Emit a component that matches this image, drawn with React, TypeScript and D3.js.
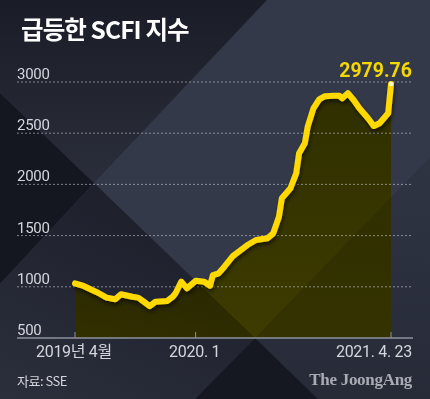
import React from "react";
import * as d3 from "d3";

const dates = [
  "2019-03-15", "2019-04-05", "2019-05-10", "2019-05-31", "2019-06-21", "2019-07-05",
  "2019-08-02", "2019-08-16", "2019-08-30", "2019-09-13", "2019-09-27", "2019-10-25",
  "2019-11-08", "2019-11-15", "2019-11-29", "2019-12-13", "2020-01-03", "2020-01-24",
  "2020-02-07", "2020-02-14", "2020-02-28", "2020-03-13", "2020-04-03", "2020-04-17",
  "2020-05-08", "2020-05-29", "2020-06-26", "2020-07-10", "2020-07-24", "2020-07-31",
  "2020-08-21", "2020-09-04", "2020-09-11", "2020-09-25", "2020-10-02", "2020-10-16",
  "2020-10-30", "2020-11-13", "2020-12-04", "2020-12-18", "2020-12-25", "2021-01-08",
  "2021-01-22", "2021-02-05", "2021-02-26", "2021-03-12", "2021-03-26", "2021-04-16",
  "2021-04-23",
];
const values = [
  1034, 1008, 942, 894, 878, 927,
  903, 894, 854, 812, 854, 861,
  903, 937, 1050, 985, 1060, 1050,
  1011, 1115, 1132, 1196, 1301, 1343,
  1408, 1457, 1474, 1522, 1685, 1864,
  1962, 2108, 2304, 2401, 2564, 2743,
  2831, 2862, 2865, 2865, 2840, 2890,
  2824, 2743, 2646, 2570, 2597, 2694,
  2979.76,
];
const yTicks = [500, 1000, 1500, 2000, 2500, 3000];
const xTickDates = ["2019-03-15", "2020-01-03", "2021-04-23"];
const xTickLabels = ["2019년 4월", "2020. 1", "2021. 4. 23"];
const title = "급등한 SCFI 지수";
const lastLabel = "2979.76";
const source = "자료: SSE";
const brand = "The JoongAng";

export default function App() {
  const W = 430, H = 399;
  const parse = d3.timeParse("%Y-%m-%d");
  const data = dates.map((d, i) => ({ date: parse(d) as Date, value: values[i] }));
  const x = d3.scaleTime()
    .domain([data[0].date, data[data.length - 1].date])
    .range([75, 391]);
  const y = d3.scaleLinear().domain([500, 3000]).range([338, 82]);

  const line = d3.line<{ date: Date; value: number }>()
    .x((d) => x(d.date))
    .y((d) => y(d.value))
    .curve(d3.curveLinear);
  const area = d3.area<{ date: Date; value: number }>()
    .x((d) => x(d.date))
    .y0(y(500))
    .y1((d) => y(d.value))
    .curve(d3.curveLinear);

  const last = data[data.length - 1];
  const numFont = "Roboto, 'Noto Sans CJK KR', sans-serif";

  return (
    <>
      <style>{`body{margin:0;background:#2a2e3b}`}</style>
      <svg width={W} height={H} style={{ display: "block" }}>
        <defs>
          <linearGradient id="gTop" x1="0" y1="0" x2="0" y2="1">
            <stop offset="0" stopColor="#1a1d27" />
            <stop offset="1" stopColor="#2a2e3a" />
          </linearGradient>
          <linearGradient id="gBot" x1="0.6" y1="0" x2="0" y2="1">
            <stop offset="0" stopColor="#1c1f2a" />
            <stop offset="1" stopColor="#2b2f3c" />
          </linearGradient>
          <linearGradient id="gRight" x1="0" y1="0" x2="0" y2="1">
            <stop offset="0" stopColor="#2f3443" />
            <stop offset="1" stopColor="#272b38" />
          </linearGradient>
          <linearGradient id="gFill" x1="0" y1="0" x2="0" y2="1">
            <stop offset="0" stopColor="#ffe000" stopOpacity={0} />
            <stop offset="1" stopColor="#ffe000" stopOpacity={0.07} />
          </linearGradient>
          <filter id="shadow" x="-10%" y="-10%" width="130%" height="130%">
            <feDropShadow dx="1" dy="3" stdDeviation="2" floodColor="#000" floodOpacity="0.55" />
          </filter>
        </defs>
        {/* background */}
        <rect x={0} y={0} width={W} height={H} fill="#343949" />
        <polygon points="0,0 267,0 94,183 0,93" fill="url(#gTop)" />
        <polygon points="0,93 94,183 0,284" fill="#141720" />
        <polygon points="94,183 255,338 195,399 0,399 0,284" fill="url(#gBot)" />
        <polygon points="430,157 255,338 318,399 430,399" fill="url(#gRight)" />
        <polygon points="255,338 318,399 195,399" fill="#151821" />

        {/* area */}
        <path d={area(data) || ""} fill="#e6cf00" style={{ mixBlendMode: "multiply" }} />
        <path d={area(data) || ""} fill="url(#gFill)" />

        {/* grid */}
        {yTicks.filter((t) => t > 500).map((t) => (
          <line key={t} x1={17} x2={413} y1={y(t)} y2={y(t)} stroke="#c4c8d0" strokeOpacity={0.6}
            strokeWidth={1} strokeDasharray="2,2" />
        ))}
        <line x1={17} x2={413} y1={y(500)} y2={y(500)} stroke="#8d929c" strokeWidth={1.5} />
        {xTickDates.map((d) => (
          <line key={d} x1={x(parse(d) as Date)} x2={x(parse(d) as Date)} y1={y(500) - 6} y2={y(500)}
            stroke="#8d929c" strokeWidth={1} />
        ))}
        {yTicks.map((t) => (
          <text key={t} x={17} y={y(t) - 3} fill="#d3d6dc" fontFamily={numFont} fontSize={15}
            letterSpacing={-0.3}>{t}</text>
        ))}
        {xTickDates.map((d, i) => (
          <text key={d} x={i === 2 ? 412 : x(parse(d) as Date) - 1} y={357}
            textAnchor={i === 2 ? "end" : "middle"} fill="#d3d6dc" fontFamily={numFont}
            fontSize={16} letterSpacing={-0.3}>{xTickLabels[i]}</text>
        ))}

        {/* line */}
        <path d={line(data) || ""} fill="none" stroke="#ffd900" strokeWidth={6}
          strokeLinejoin="round" strokeLinecap="round" filter="url(#shadow)" />
        <circle cx={x(last.date)} cy={y(last.value)} r={2.3} fill="#fffbd0" />
        <text x={412} y={77} textAnchor="end" fill="#f5d800" fontFamily={numFont} fontWeight={700}
          fontSize={19.5}>{lastLabel}</text>

        {/* title & footer */}
        <text x={21} y={39} fill="#ffffff" fontFamily="'Noto Sans CJK KR', sans-serif" fontWeight={700}
          fontSize={24.5} letterSpacing={-0.9}>{title}</text>
        <text x={17} y={386} fill="#d3d6dc" fontFamily="'Noto Sans CJK KR', sans-serif" fontSize={13}
          letterSpacing={-0.5}>{source}</text>
        <text x={412} y={385} textAnchor="end" fill="#a8abb2" fontFamily="'Liberation Serif', serif"
          fontWeight={700} fontSize={17} letterSpacing={-0.3}>{brand}</text>
      </svg>
    </>
  );
}
